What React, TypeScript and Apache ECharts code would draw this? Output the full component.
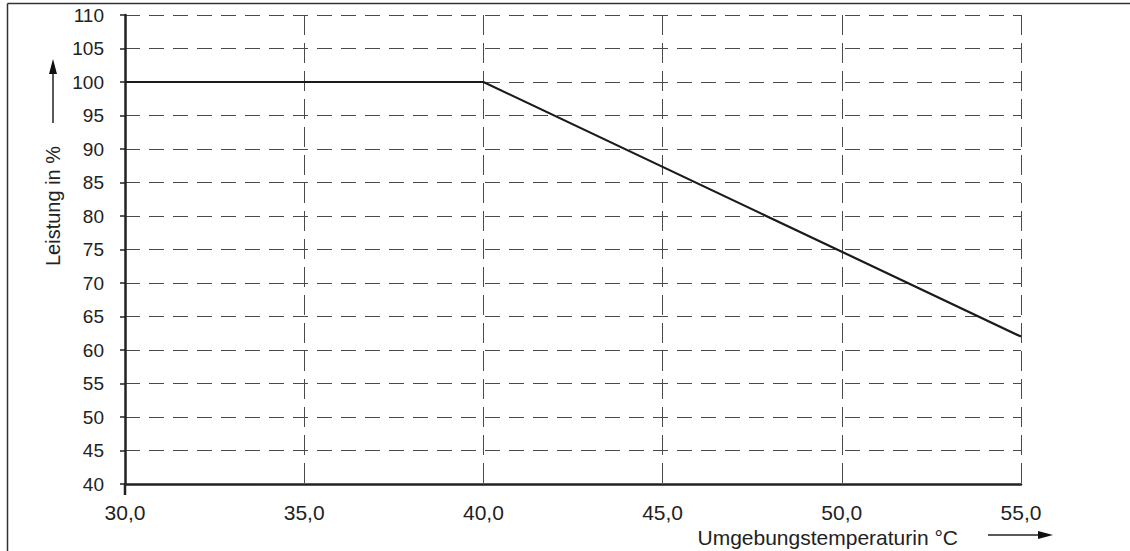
import React, { useEffect, useRef } from "react";
import * as echarts from "echarts";

const temperatures: number[] = [30, 40, 55];
const power: number[] = [100, 100, 62];
const xTicks = { min: 30, max: 55, step: 5 };
const yTicks = { min: 40, max: 110, step: 5 };
const xTitle = "Umgebungstemperaturin °C";
const yTitle = "Leistung in %";

const FONT = "Liberation Sans, Arial, Helvetica, sans-serif";
const TEXT = "#222";
const GRID = "#4a4a4a";

export default function App() {
  const ref = useRef<HTMLDivElement>(null);
  useEffect(() => {
    if (!ref.current) return;
    const chart = echarts.init(ref.current, undefined, { renderer: "svg" });
    const data = temperatures.map((t, i) => [t, power[i]]);
    chart.setOption({
      animation: false,
      backgroundColor: "#fff",
      grid: { left: 125, right: 109, top: 15, bottom: 67, containLabel: false },
      xAxis: {
        type: "value",
        min: xTicks.min,
        max: xTicks.max,
        interval: xTicks.step,
        axisLine: { show: true, lineStyle: { color: "#222", width: 2.5 } },
        axisTick: { show: false },
        axisLabel: {
          color: TEXT,
          fontFamily: FONT,
          fontSize: 21,
          margin: 18,
          formatter: (v: number) => v.toFixed(1).replace(".", ","),
        },
        splitLine: { show: true, lineStyle: { color: GRID, width: 1, type: [20, 8] } },
      },
      yAxis: {
        type: "value",
        min: yTicks.min,
        max: yTicks.max,
        interval: yTicks.step,
        axisLine: { show: true, onZero: false, lineStyle: { color: "#222", width: 2.5 } },
        axisTick: { show: true, length: 5, lineStyle: { color: "#222", width: 1.5 } },
        axisLabel: { color: TEXT, fontFamily: FONT, fontSize: 19, margin: 21 },
        splitLine: { show: true, lineStyle: { color: GRID, width: 1, type: [15, 9] } },
      },
      series: [
        {
          type: "line",
          data,
          symbol: "none",
          lineStyle: { color: "#1a1a1a", width: 2.2 },
          z: 5,
        },
      ],
    });
    const [x0, y0] = chart.convertToPixel({ gridIndex: 0 }, [xTicks.min, yTicks.min]) as number[];
    chart.setOption({
      graphic: [
        { type: "line", shape: { x1: 7.5, y1: 3.5, x2: 1130, y2: 3.5 }, style: { stroke: "#333", lineWidth: 1.5 } },
        { type: "line", shape: { x1: 7.5, y1: 3.5, x2: 7.5, y2: 551 }, style: { stroke: "#333", lineWidth: 1.5 } },
        { type: "line", shape: { x1: x0, y1: y0, x2: x0, y2: y0 + 11 }, style: { stroke: "#222", lineWidth: 2.5 } },
        {
          type: "text",
          x: 53,
          y: 206,
          rotation: Math.PI / 2,
          style: { text: yTitle, fill: TEXT, font: `20px ${FONT}`, align: "center", verticalAlign: "middle" },
        },
        { type: "line", shape: { x1: 53, y1: 123, x2: 53, y2: 70 }, style: { stroke: "#222", lineWidth: 1.5 } },
        { type: "polygon", shape: { points: [[53, 59], [49, 74], [57, 74]] }, style: { fill: "#111" } },
        {
          type: "text",
          x: 958,
          y: 537,
          style: { text: xTitle, fill: TEXT, font: `21px ${FONT}`, align: "right", verticalAlign: "middle" },
        },
        { type: "line", shape: { x1: 988, y1: 535, x2: 1042, y2: 535 }, style: { stroke: "#222", lineWidth: 1.5 } },
        { type: "polygon", shape: { points: [[1053, 535], [1038, 531], [1038, 539]] }, style: { fill: "#111" } },
      ],
    });
    return () => chart.dispose();
  }, []);
  return (
    <div
      ref={ref}
      style={{ position: "fixed", left: 0, top: 0, width: 1130, height: 551 }}
    />
  );
}
